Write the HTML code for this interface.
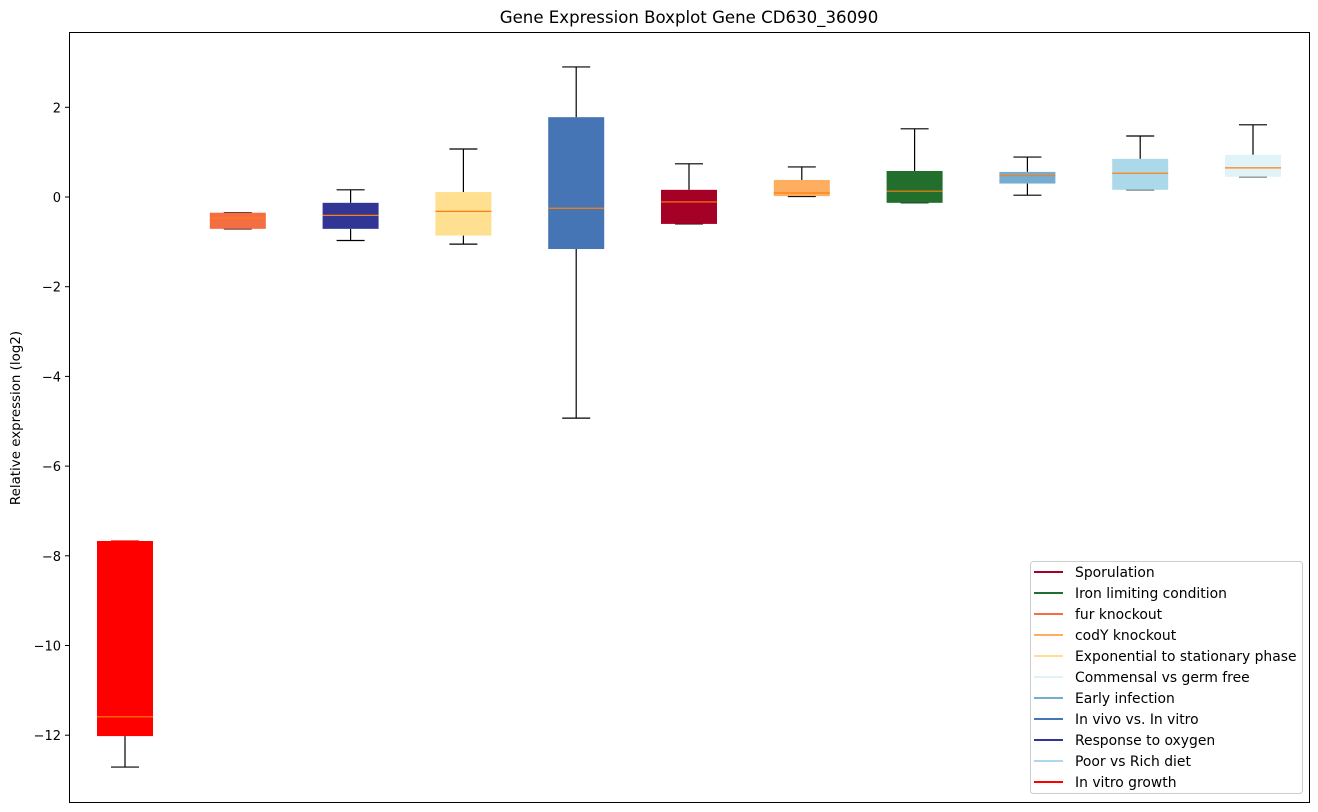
<!DOCTYPE html>
<html><head><meta charset="utf-8"><style>
html,body{margin:0;padding:0;background:#fff;}
svg{display:block;font-family:"DejaVu Sans","Liberation Sans",sans-serif;}
</style></head><body>
<svg id="chart" width="1318" height="812" xmlns="http://www.w3.org/2000/svg">
<rect x="0" y="0" width="1318" height="812" fill="#fff"/>
<text x="689" y="23" text-anchor="middle" font-size="16.6" fill="#000">Gene Expression Boxplot Gene CD630_36090</text>
<text transform="translate(20,418) rotate(-90)" text-anchor="middle" font-size="13.4" fill="#000">Relative expression (log2)</text>
<g id="yaxis"></g>
<g id="boxes"></g>
<rect x="69.5" y="32.5" width="1240" height="770" fill="none" stroke="#000" stroke-width="1"/>
<g id="legend"></g>
</svg>
<script>
const categories=["In vitro growth","fur knockout","Response to oxygen","Exponential to stationary phase","In vivo vs. In vitro","Sporulation","codY knockout","Iron limiting condition","Early infection","Poor vs Rich diet","Commensal vs germ free"];
const colors=["#ff0000","#f46d43","#313695","#fee090","#4575b4","#a50026","#fdae61","#226e2d","#74add1","#abd9e9","#e0f3f8"];
const whiskerLow=[-12.71,-0.71,-0.97,-1.05,-4.93,-0.6,0.01,-0.13,0.04,0.16,0.45];
const q1=[-12.02,-0.71,-0.71,-0.86,-1.16,-0.6,0.02,-0.13,0.3,0.16,0.45];
const medians=[-11.59,-0.47,-0.41,-0.32,-0.25,-0.11,0.09,0.13,0.48,0.53,0.65];
const q3=[-7.67,-0.35,-0.13,0.11,1.78,0.16,0.38,0.58,0.56,0.85,0.94];
const whiskerHigh=[-7.67,-0.35,0.16,1.07,2.9,0.74,0.67,1.52,0.89,1.36,1.61];
const yTicks=[2,0,-2,-4,-6,-8,-10,-12];
const legendLabels=["Sporulation","Iron limiting condition","fur knockout","codY knockout","Exponential to stationary phase","Commensal vs germ free","Early infection","In vivo vs. In vitro","Response to oxygen","Poor vs Rich diet","In vitro growth"];
const legendColors=["#a50026","#226e2d","#f46d43","#fdae61","#fee090","#e0f3f8","#74add1","#4575b4","#313695","#abd9e9","#ff0000"];

const NS="http://www.w3.org/2000/svg";
function y(v){return 197-v*44.85;}
function x(i){return 125+i*112.8;}
function mk(tag,attrs,parent){const e=document.createElementNS(NS,tag);for(const k in attrs)e.setAttribute(k,attrs[k]);parent.appendChild(e);return e;}
const ya=document.getElementById('yaxis');
yTicks.forEach(t=>{
  const l=mk('line',{x1:65,x2:69,y1:y(t),y2:y(t),stroke:'#000'},ya);
  
  
  const tx=mk('text',{x:61,y:y(t)+5,'text-anchor':'end','font-size':13},ya);
  tx.textContent=(t<0?'\u2212'+(-t):String(t));
  
  
});
const bg=document.getElementById('boxes');
categories.forEach((c,i)=>{
  const g=mk('g',{},bg);
  
  
  const cx=x(i),w=56;
  mk('line',{x1:cx,x2:cx,y1:y(whiskerHigh[i]),y2:y(q3[i]),stroke:'#000','stroke-width':1.2},g);
  mk('line',{x1:cx,x2:cx,y1:y(q1[i]),y2:y(whiskerLow[i]),stroke:'#000','stroke-width':1.2},g);
  mk('line',{x1:cx-14,x2:cx+14,y1:y(whiskerHigh[i]),y2:y(whiskerHigh[i]),stroke:i==0?colors[i]:'#000','stroke-width':1.2},g);
  mk('line',{x1:cx-14,x2:cx+14,y1:y(whiskerLow[i]),y2:y(whiskerLow[i]),stroke:'#000','stroke-width':1.2},g);
  const top=y(q3[i]),bot=y(q1[i]);
  mk('rect',{x:cx-w/2,y:top,width:w,height:Math.max(bot-top,1),fill:colors[i]},g);
  mk('line',{x1:cx-w/2,x2:cx+w/2,y1:y(medians[i]),y2:y(medians[i]),stroke:'#ff7f0e','stroke-width':1.2},g);
});
const lg=document.getElementById('legend');
const fr=mk('rect',{x:1030.5,y:561.5,width:272,height:232,rx:3,fill:'#fff','fill-opacity':0.8,stroke:'#ccc'},lg);


legendLabels.forEach((l,i)=>{
  const g=mk('g',{},lg);
  
  
  const yy=572+i*21;
  mk('line',{x1:1034,x2:1063,y1:yy,y2:yy,stroke:legendColors[i],'stroke-width':2},g);
  const t=mk('text',{x:1075,y:yy+5,'font-size':13.9},g);
  t.textContent=l;
});
</script>
</body></html>
